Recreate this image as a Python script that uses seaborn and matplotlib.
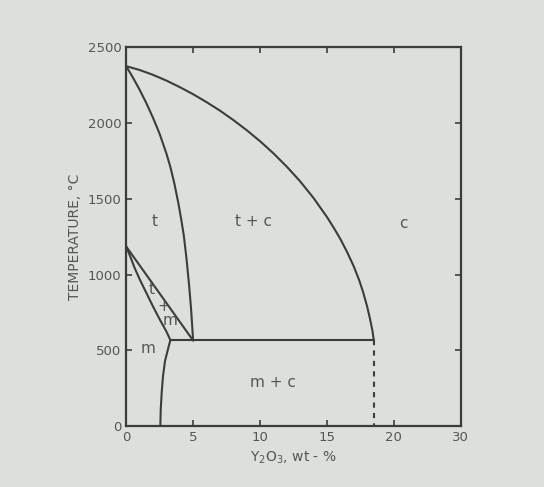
import matplotlib
matplotlib.use("Agg")
import matplotlib.pyplot as plt
import seaborn as sns

# ---- phase boundaries (x = wt-% Y2O3, y = temperature in C) ----
cubic_x = [0, 1, 2, 3, 4, 5, 6, 7, 8, 9, 10, 11, 12, 13, 14, 15, 15.5, 16, 16.5,
           17, 17.4, 17.7, 18.0, 18.2, 18.4, 18.5]
cubic_y = [2375, 2350, 2318, 2280, 2237, 2190, 2138, 2082, 2020, 1953, 1880, 1800, 1712,
           1615, 1505, 1380, 1310, 1235, 1150, 1055, 965, 885, 790, 715, 630, 565]

tet_x = [0, 0.5, 1.0, 1.5, 2.0, 2.5, 3.0, 3.3, 3.6, 3.9, 4.1, 4.3, 4.5, 4.7, 4.85, 5.0]
tet_y = [2375, 2300, 2220, 2132, 2035, 1928, 1800, 1710, 1600, 1470, 1370, 1260, 1110,
         930, 770, 565]

tm_upper_x = [0, 5.0]
tm_upper_y = [1185, 565]

tm_lower_x = [0, 0.3, 0.6, 1.0, 1.5, 2.0, 2.5, 3.0, 3.3]
tm_lower_y = [1185, 1120, 1050, 970, 880, 790, 705, 625, 568]

mono_x = [3.3, 3.1, 2.9, 2.75, 2.65, 2.58, 2.55]
mono_y = [568, 500, 430, 330, 220, 110, 0]

eutectoid_x = [3.3, 18.5]
eutectoid_y = [565, 565]

dashed_x = [18.5, 18.5]
dashed_y = [565, 0]

# region labels
region_text = ["t", "t + c", "c", "t", "+", "m", "m", "m + c"]
region_x = [2.1, 9.5, 20.7, 1.9, 2.8, 3.3, 1.6, 11.0]
region_y = [1350, 1350, 1340, 900, 790, 700, 510, 290]

x_ticks = [0, 5, 10, 15, 20, 25]
x_tick_labels = ["0", "5", "10", "15", "20", "30"]
y_ticks = [0, 500, 1000, 1500, 2000, 2500]

bg = "#dcdfdc"
ink = "#3c3c3c"
txt = "#555555"

sns.set_style("ticks")
plt.rcParams['font.family'] = ['DejaVu Sans']

fig = plt.figure(figsize=(5.44, 4.87), dpi=100, facecolor=bg)
ax = fig.add_axes([0.232, 0.125, 0.615, 0.778])
ax.set_facecolor(bg)

for xs, ys in [(cubic_x, cubic_y), (tet_x, tet_y), (tm_upper_x, tm_upper_y),
               (tm_lower_x, tm_lower_y), (mono_x, mono_y), (eutectoid_x, eutectoid_y)]:
    sns.lineplot(x=xs, y=ys, sort=False, estimator=None, color=ink, linewidth=1.5, ax=ax)

sns.lineplot(x=dashed_x, y=dashed_y, sort=False, estimator=None, color=ink,
             linewidth=1.5, linestyle=(0, (2.5, 2.5)), ax=ax)

for t, x, y in zip(region_text, region_x, region_y):
    ax.text(x, y, t, ha="center", va="center", fontsize=11, color=txt)

ax.set_xlim(0, 25)
ax.set_ylim(0, 2500)
ax.set_xticks(x_ticks)
ax.set_xticklabels(x_tick_labels)
ax.set_yticks(y_ticks)
ax.tick_params(direction="in", length=4, width=1.2, colors=ink, labelcolor=txt,
               labelsize=9.5, top=True, right=True)
for s in ax.spines.values():
    s.set_color(ink)
    s.set_linewidth(1.6)

ax.set_xlabel("Y$_2$O$_3$, wt - %", fontsize=10, color=txt)
ax.set_ylabel("TEMPERATURE, °C", fontsize=10, color=txt)

fig.savefig("out.png", dpi=100, facecolor=bg)
